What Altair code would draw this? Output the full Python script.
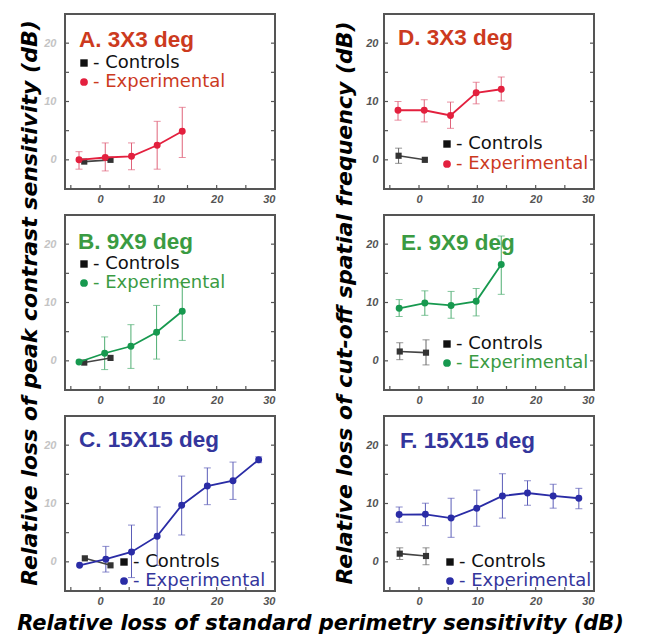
import altair as alt
import pandas as pd

FONT = "Liberation Sans"
WIDE = "DejaVu Sans"

# ---------------- data ----------------
# Panel A: 3X3 deg, peak contrast sensitivity
A_exp_x = [-3.6, 0.9, 5.4, 9.8, 14.1]
A_exp_y = [0.0, 0.4, 0.6, 2.5, 4.9]
A_exp_up = [1.4, 2.5, 2.3, 4.1, 4.1]
A_exp_dn = [1.6, 2.3, 2.3, 4.1, 4.5]
A_ctl_x = [-2.7, 1.8]
A_ctl_y = [-0.3, 0.0]
A_ctl_up = [0.0, 0.0]
A_ctl_dn = [0.0, 0.0]

# Panel B: 9X9 deg, peak contrast sensitivity
B_exp_x = [-3.6, 0.8, 5.3, 9.7, 14.1]
B_exp_y = [-0.2, 1.3, 2.5, 4.9, 8.5]
B_exp_up = [0.0, 2.8, 3.7, 4.6, 4.9]
B_exp_dn = [0.0, 2.8, 3.8, 4.6, 5.0]
B_ctl_x = [-2.7, 1.8]
B_ctl_y = [-0.3, 0.5]
B_ctl_up = [0.0, 0.0]
B_ctl_dn = [0.0, 0.0]

# Panel C: 15X15 deg, peak contrast sensitivity
C_exp_x = [-3.5, 1.0, 5.4, 9.8, 14.0, 18.4, 22.8, 27.2]
C_exp_y = [-0.6, 0.45, 1.7, 4.4, 9.7, 13.0, 13.9, 17.5]
C_exp_up = [0.0, 2.2, 4.6, 5.0, 5.0, 3.1, 3.2, 0.5]
C_exp_dn = [0.0, 2.2, 4.4, 5.0, 5.1, 3.2, 3.2, 0.5]
C_ctl_x = [-2.6, 1.8]
C_ctl_y = [0.6, -0.6]
C_ctl_up = [0.0, 0.0]
C_ctl_dn = [0.0, 0.0]

# Panel D: 3X3 deg, cut-off spatial frequency
D_exp_x = [-3.6, 0.9, 5.4, 9.8, 14.1]
D_exp_y = [8.5, 8.5, 7.6, 11.5, 12.1]
D_exp_up = [1.5, 1.8, 2.3, 1.8, 2.1]
D_exp_dn = [1.7, 2.0, 2.2, 1.9, 2.0]
D_ctl_x = [-3.5, 1.0]
D_ctl_y = [0.7, 0.0]
D_ctl_up = [1.3, 0.0]
D_ctl_dn = [1.3, 0.0]

# Panel E: 9X9 deg, cut-off spatial frequency
E_exp_x = [-3.4, 1.0, 5.5, 9.8, 14.1]
E_exp_y = [9.0, 9.9, 9.5, 10.2, 16.5]
E_exp_up = [1.5, 2.1, 2.4, 2.2, 4.9]
E_exp_dn = [1.4, 2.1, 2.2, 2.5, 5.1]
E_ctl_x = [-3.3, 1.2]
E_ctl_y = [1.6, 1.4]
E_ctl_up = [1.5, 2.2]
E_ctl_dn = [1.4, 2.1]

# Panel F: 15X15 deg, cut-off spatial frequency
F_exp_x = [-3.4, 1.1, 5.5, 9.9, 14.3, 18.6, 23.0, 27.4]
F_exp_y = [8.1, 8.15, 7.5, 9.2, 11.3, 11.8, 11.3, 10.9]
F_exp_up = [1.3, 1.9, 3.4, 3.1, 3.8, 2.1, 2.0, 1.7]
F_exp_dn = [1.3, 1.95, 3.3, 3.1, 3.8, 2.1, 2.1, 1.8]
F_ctl_x = [-3.3, 1.2]
F_ctl_y = [1.4, 1.0]
F_ctl_up = [1.0, 1.4]
F_ctl_dn = [1.0, 1.5]

panel_titles = {"A": "A. 3X3 deg", "B": "B. 9X9 deg", "C": "C. 15X15 deg",
                "D": "D. 3X3 deg", "E": "E. 9X9 deg", "F": "F. 15X15 deg"}
legend_ctl = "- Controls"
legend_exp = "- Experimental"
x_tick_labels = [0, 10, 20, 30]
y_tick_labels = [0, 10, 20]
x_minor_ticks = [-5, 0, 5, 10, 15, 20, 25]
y_minor_ticks = [0, 5, 10, 15, 20]
left_ytitle = "Relative loss of peak contrast sensitivity (dB)"
right_ytitle = "Relative loss of cut-off spatial frequency (dB)"
bottom_title = "Relative loss of standard perimetry sensitivity (dB)"

# ---------------- styling ----------------
W, H = 210, 175
XS = alt.Scale(domain=[-6, 30], nice=False, zero=False)
YS = alt.Scale(domain=[-5, 25], nice=False, zero=False)
FRAME = "#555555"
CTL = "#333333"

palette = {
    "red": {"line": "#E3203E", "bar": "#E0637A", "text": "#CC3A1E"},
    "green": {"line": "#17994F", "bar": "#4FAE72", "text": "#3A9B42"},
    "blue": {"line": "#2A2CA6", "bar": "#5B5DB8", "text": "#34369C"},
}


def x_axis():
    return alt.Axis(values=x_tick_labels, ticks=False, domain=False, grid=False,
                    labelFont=FONT, labelFontSize=11, labelFontStyle="italic",
                    labelFontWeight="bold", labelColor="#555555", labelPadding=4,
                    title=None)


def y_axis(label_color, pad, title=None, title_x=None):
    kw = dict(values=y_tick_labels, ticks=False, domain=False, grid=False,
              labelFont=FONT, labelFontSize=11, labelFontStyle="italic",
              labelFontWeight="bold", labelColor=label_color, labelPadding=pad)
    if title is None:
        kw["title"] = None
    else:
        kw.update(title=title, titleFont=WIDE, titleFontSize=22,
                  titleFontWeight="bold", titleFontStyle="italic",
                  titleColor="#000000", titleX=title_x, titleY=H / 2,
                  titleBaseline="middle", titleAlign="center", titleAngle=270)
    return alt.Axis(**kw)


def series_df(xs, ys, up, dn):
    return pd.DataFrame({"x": xs, "y": ys,
                         "hi": [y + u for y, u in zip(ys, up)],
                         "lo": [y - d for y, d in zip(ys, dn)],
                         "has": [(u > 0 or d > 0) for u, d in zip(up, dn)]})


def panel(key, exp, ctl, color, yax, layout):
    xa = x_axis()
    X = alt.X("x:Q", scale=XS, axis=xa)
    Y = alt.Y("y:Q", scale=YS, axis=yax)
    c = palette[color]
    e = series_df(*exp)
    k = series_df(*ctl)
    e_err = e[e["has"]]
    k_err = k[k["has"]]

    layers = []
    # inward ticks on bottom, left and right edges
    xt = pd.DataFrame({"x": x_minor_ticks})
    yt = pd.DataFrame({"y": y_minor_ticks})
    layers.append(alt.Chart(xt).mark_rule(color=FRAME, strokeWidth=1.2).encode(
        x=X, y=alt.value(H), y2=alt.value(H - 4)))
    layers.append(alt.Chart(yt).mark_rule(color=FRAME, strokeWidth=1.2).encode(
        y=Y, x=alt.value(0), x2=alt.value(4)))
    layers.append(alt.Chart(yt).mark_rule(color=FRAME, strokeWidth=1.2).encode(
        y=Y, x=alt.value(W), x2=alt.value(W - 4)))

    def err_layers(df, col):
        out = []
        if len(df) == 0:
            return out
        out.append(alt.Chart(df).mark_rule(color=col, strokeWidth=1).encode(
            x=X, y=alt.Y("lo:Q", scale=YS, axis=yax), y2="hi:Q"))
        out.append(alt.Chart(df).mark_tick(color=col, orient="horizontal", size=7,
                                           thickness=1).encode(
            x=X, y=alt.Y("lo:Q", scale=YS, axis=yax)))
        out.append(alt.Chart(df).mark_tick(color=col, orient="horizontal", size=7,
                                           thickness=1).encode(
            x=X, y=alt.Y("hi:Q", scale=YS, axis=yax)))
        return out

    layers += err_layers(k_err, "#666666")
    layers += err_layers(e_err, c["bar"])
    layers.append(alt.Chart(k).mark_line(color="#444444", strokeWidth=1.6).encode(x=X, y=Y))
    layers.append(alt.Chart(k).mark_point(shape="square", filled=True, size=38,
                                          color=CTL, opacity=1).encode(x=X, y=Y))
    layers.append(alt.Chart(e).mark_line(color=c["line"], strokeWidth=1.8).encode(x=X, y=Y))
    layers.append(alt.Chart(e).mark_point(shape="circle", filled=True, size=48,
                                          color=c["line"], opacity=1).encode(x=X, y=Y))

    # annotations: panel title and in-plot legend
    (tx, ty), (lx, ly1, ly2) = layout
    one = pd.DataFrame({"t": [panel_titles[key]]})
    layers.append(alt.Chart(one).mark_text(align="left", baseline="alphabetic",
                                           font=FONT, fontSize=22.5, fontWeight="bold",
                                           color=c["text"]).encode(
        x=alt.value(tx), y=alt.value(ty), text="t:N"))
    lc = pd.DataFrame({"t": [legend_ctl]})
    le = pd.DataFrame({"t": [legend_exp]})
    layers.append(alt.Chart(lc).mark_point(shape="square", filled=True, size=55,
                                           color="#111111", opacity=1).encode(
        x=alt.value(lx), y=alt.value(ly1 - 5)))
    layers.append(alt.Chart(le).mark_point(shape="circle", filled=True, size=60,
                                           color=c["line"], opacity=1).encode(
        x=alt.value(lx), y=alt.value(ly2 - 5)))
    layers.append(alt.Chart(lc).mark_text(align="left", baseline="alphabetic",
                                          font=WIDE, fontSize=18, color="#111111").encode(
        x=alt.value(lx + 9), y=alt.value(ly1), text="t:N"))
    layers.append(alt.Chart(le).mark_text(align="left", baseline="alphabetic",
                                          font=WIDE, fontSize=18, color=c["text"]).encode(
        x=alt.value(lx + 9), y=alt.value(ly2), text="t:N"))

    return alt.layer(*layers).properties(width=W, height=H)


LEFT_LBL = "#C4C4C4"
RIGHT_LBL = "#555555"

pA = panel("A", (A_exp_x, A_exp_y, A_exp_up, A_exp_dn), (A_ctl_x, A_ctl_y, A_ctl_up, A_ctl_dn),
           "red", y_axis(LEFT_LBL, 9), ((14, 33), (19, 54, 73)))
pB = panel("B", (B_exp_x, B_exp_y, B_exp_up, B_exp_dn), (B_ctl_x, B_ctl_y, B_ctl_up, B_ctl_dn),
           "green", y_axis(LEFT_LBL, 9, left_ytitle, -35.5), ((13, 34), (19, 54, 73)))
pC = panel("C", (C_exp_x, C_exp_y, C_exp_up, C_exp_dn), (C_ctl_x, C_ctl_y, C_ctl_up, C_ctl_dn),
           "blue", y_axis(LEFT_LBL, 9), ((14, 31), (59, 151, 170)))
pD = panel("D", (D_exp_x, D_exp_y, D_exp_up, D_exp_dn), (D_ctl_x, D_ctl_y, D_ctl_up, D_ctl_dn),
           "red", y_axis(RIGHT_LBL, 6), ((14, 31), (63, 135, 155)))
pE = panel("E", (E_exp_x, E_exp_y, E_exp_up, E_exp_dn), (E_ctl_x, E_ctl_y, E_ctl_up, E_ctl_dn),
           "green", y_axis(RIGHT_LBL, 6, right_ytitle, -40), ((17, 35), (63, 134, 153)))
pF = panel("F", (F_exp_x, F_exp_y, F_exp_up, F_exp_dn), (F_ctl_x, F_ctl_y, F_ctl_up, F_ctl_dn),
           "blue", y_axis(RIGHT_LBL, 6), ((16, 32), (66, 151, 170)))

chart = alt.concat(
    pA, pD, pB, pE, pC, pF,
    columns=2,
    spacing={"row": 26, "column": 109},
    bounds="flush",
    title=alt.TitleParams(text=bottom_title, orient="bottom", anchor="middle",
                          font=WIDE, fontSize=21, fontWeight="bold",
                          fontStyle="italic", color="#000000", offset=6, dx=14),
).properties(
    padding={"left": 9, "top": 5, "right": 5, "bottom": 5}
).configure_view(stroke=FRAME, strokeWidth=2)

chart.save("out.html", embed_options={"renderer": "svg", "actions": False})
